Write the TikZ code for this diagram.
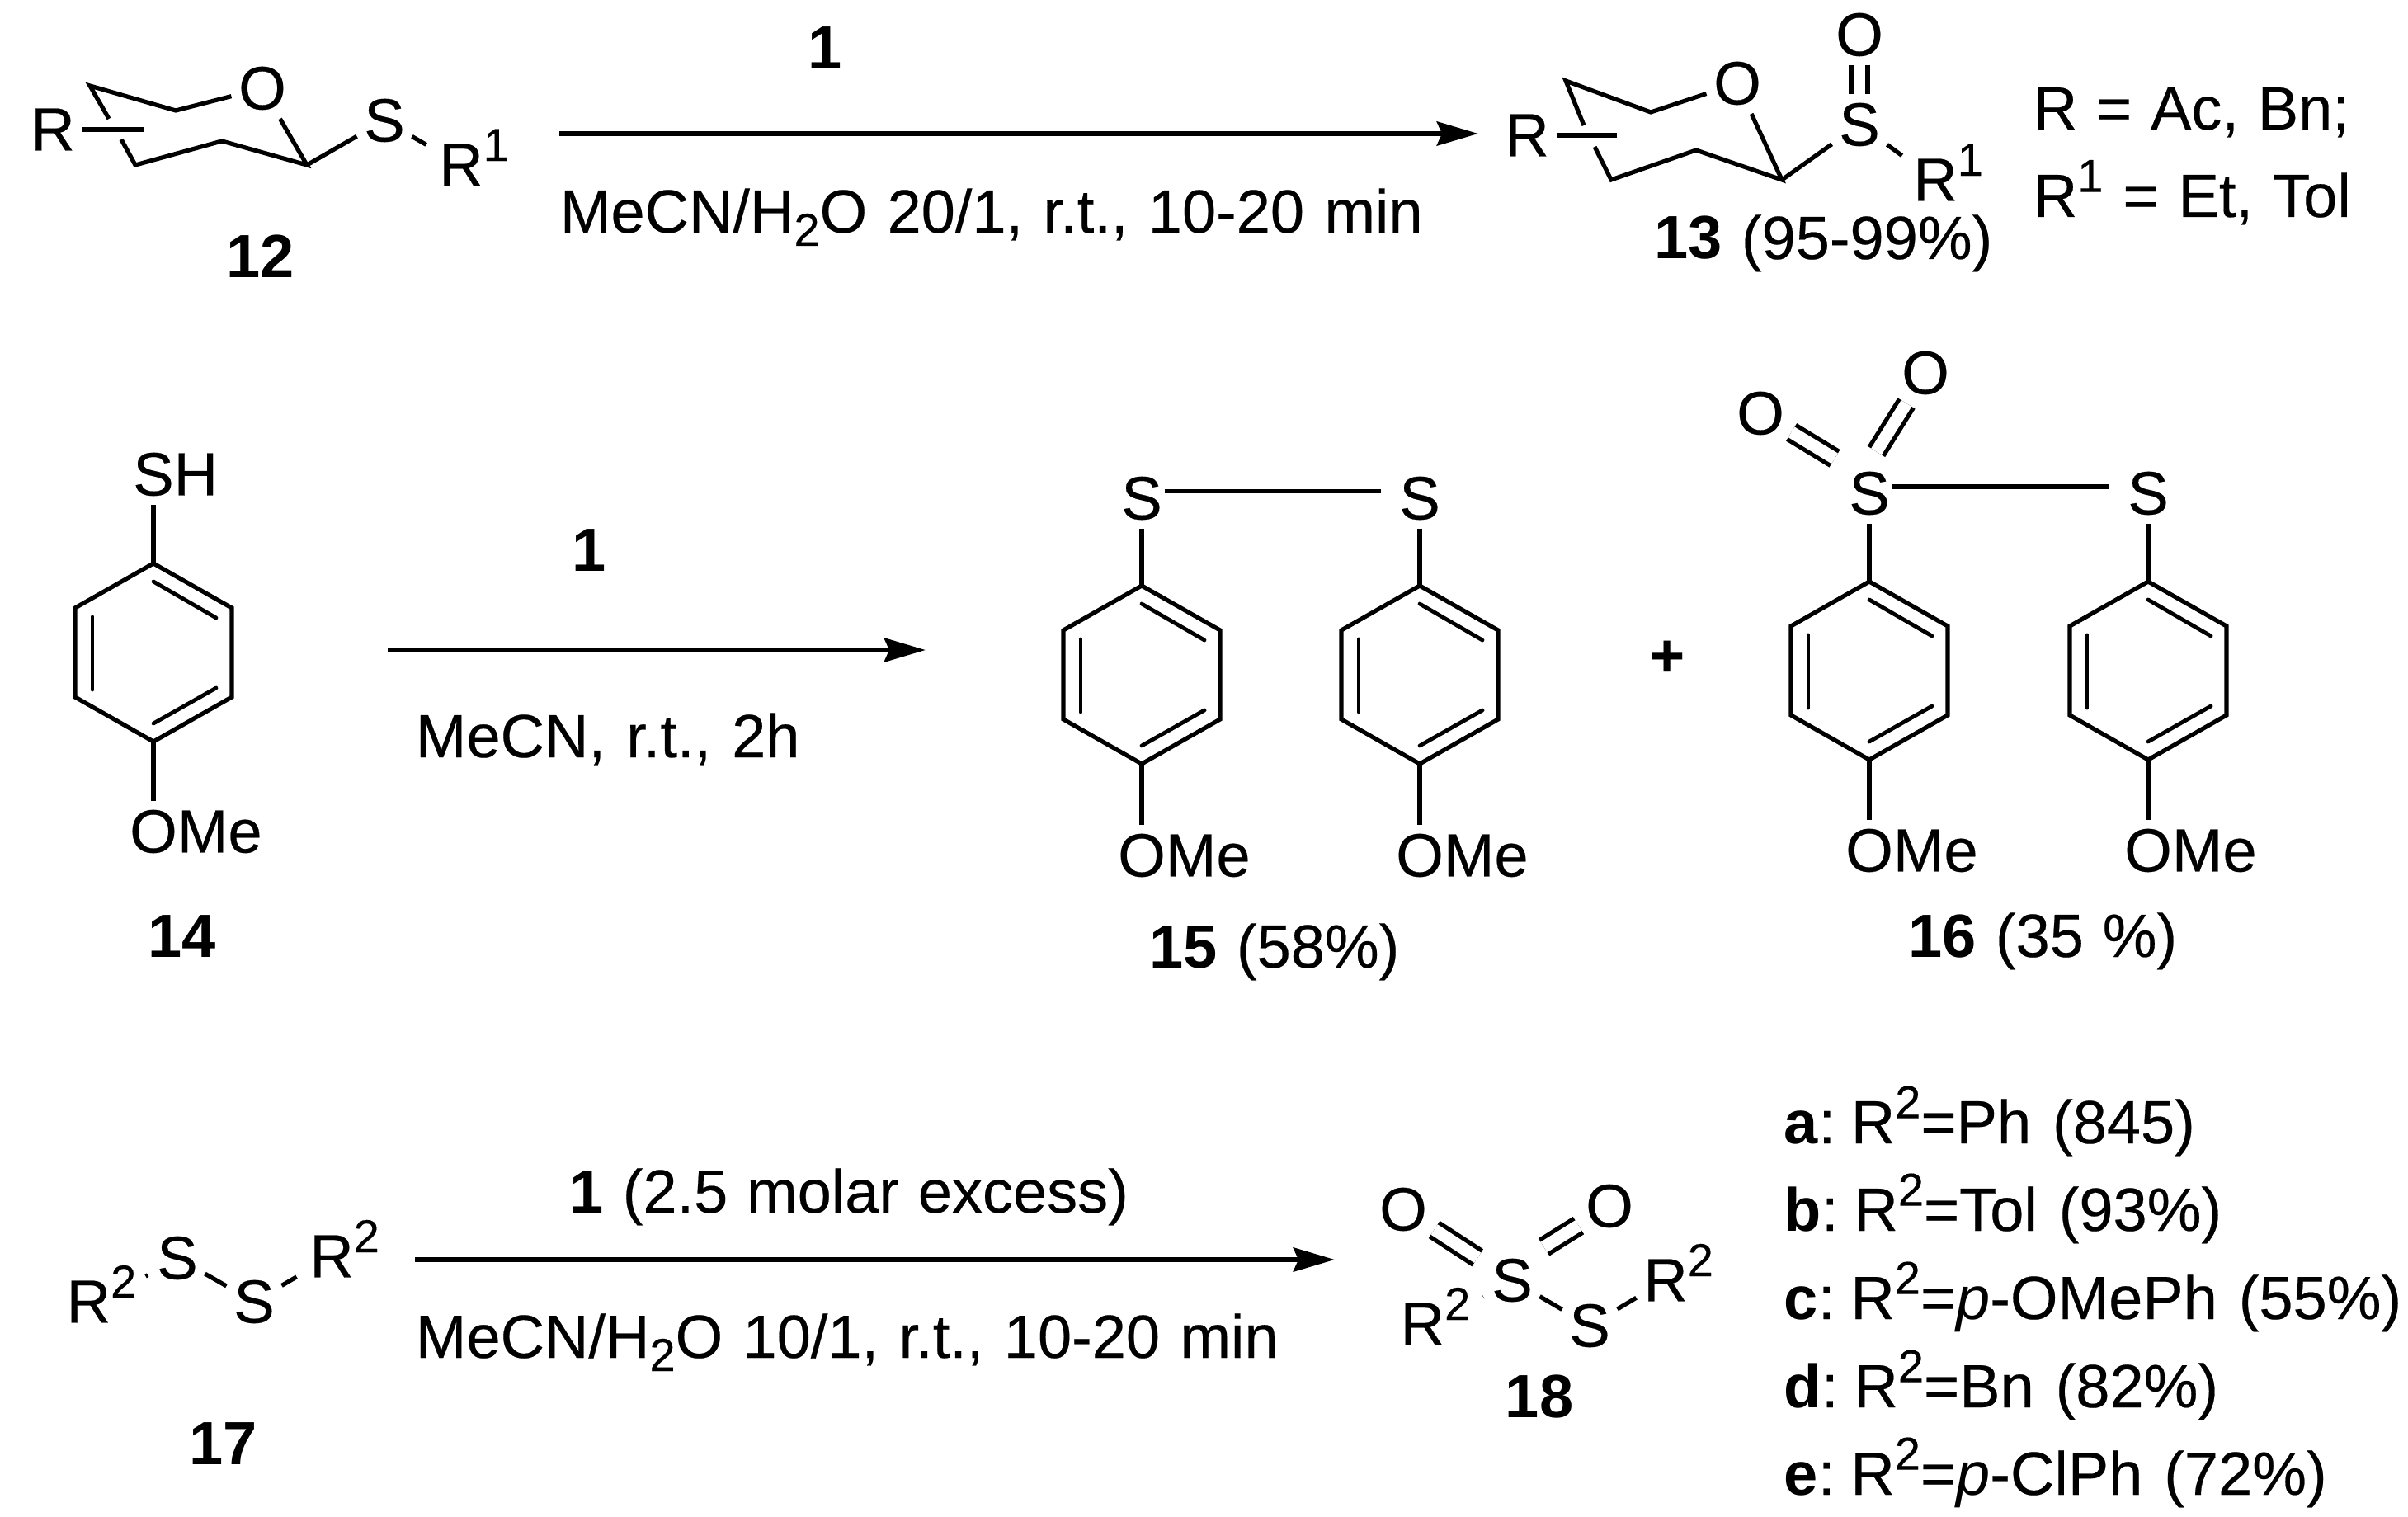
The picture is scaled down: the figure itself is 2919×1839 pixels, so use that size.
\documentclass[tikz,border=0pt]{standalone}
\usepackage{fontspec}
\setmainfont[UprightFeatures={FakeBold=0.3}]{Liberation Sans}
\usetikzlibrary{arrows.meta}
\newcommand{\supr}[1]{\smash{\raisebox{7.6pt}{\fontsize{14}{14}\selectfont #1}}}
\newcommand{\subr}[1]{\smash{\raisebox{-4pt}{\fontsize{14}{14}\selectfont #1}}}
\begin{document}
\begin{tikzpicture}[x=0.25pt, y=-0.25pt, every node/.style={font=\fontsize{18.5}{22}\selectfont, execute at begin node={\spaceskip=5.7pt\relax}}]
\tikzstyle{atom}=[inner xsep=2pt, inner ysep=2.5pt]
\tikzstyle{lbl}=[inner sep=0pt, anchor=base west]
\tikzstyle{num}=[inner sep=0pt, anchor=base]
\tikzstyle{bond}=[line width=1.3pt]
\tikzstyle{dbond}=[line width=1.3pt, double, double distance=3.7pt]
\tikzstyle{inner}=[line width=1.2pt, line cap=round]
\tikzstyle{rxn}=[line width=1.7pt, -{Stealth[length=12.5pt, width=7.2pt, inset=1.5pt]}]
\useasboundingbox (0,0) rectangle (2919,1839);

%% first row
\node (r12) at (64,157) [atom] {R};
\node (o12) at (318,107) [atom] {O};
\node (s12) at (466,146) [atom] {S};
\node (rr12) at (559,200) [atom] {R\rlap{\supr{1}}};
\coordinate (c121) at (109,104);
\coordinate (c122) at (213,134);
\coordinate (c123) at (132,144);
\coordinate (c124) at (174,157);
\coordinate (c125) at (147,169);
\coordinate (c126) at (164,200);
\coordinate (c127) at (269,171);
\coordinate (c128) at (372,200);

\draw [bond] (c123) -- (c121) -- (c122) -- (o12);
\draw [bond] (r12) -- (c124);
\draw [bond] (c125) -- (c126) -- (c127) -- (c128) -- (o12);
\draw [bond] (c128) -- (s12);
\draw [bond, shorten >=2pt] (s12) -- (rr12);

\coordinate (ar1s) at (678,162);
\coordinate (ar1e) at (1792,162);
\draw [rxn] (ar1s) -- (ar1e);
\node (k1) at (1000,84) [num] {\textbf{1}};
\node (m1) at (678,282) [lbl] {\spaceskip=6.1pt\relax MeCN/H\subr{2}O 20/1, r.t., 10-20 min};

\node (r13) at (1851,164) [atom] {R};
\node (o13) at (2106,101) [atom] {O};
\node (s13) at (2254,151) [atom] {S};
\node (ot13) at (2254,42) [atom] {O};
\node (rr13) at (2346,218) [atom] {R\rlap{\supr{1}}};
\coordinate (c131) at (1898,98);
\coordinate (c132) at (2001,136);
\coordinate (c133) at (1920,152);
\coordinate (c134) at (1960,164);
\coordinate (c135) at (1933,178);
\coordinate (c136) at (1953,218);
\coordinate (c137) at (2056,182);
\coordinate (c138) at (2160,218);

\draw [bond] (c133) -- (c131) -- (c132) -- (o13);
\draw [bond] (r13) -- (c134);
\draw [bond] (c135) -- (c136) -- (c137) -- (c138) -- (o13);
\draw [bond] (c138) -- (s13);
\draw [bond, shorten >=1.5pt] (s13) -- (rr13);
\draw [dbond] (ot13) -- (s13);

\node (n13) at (2005,314) [lbl] {\textbf{13} (95-99\%)};
\node (v1) at (2464,157) [lbl] {R = Ac, Bn;};
\node (v2) at (2464,263) [lbl] {\spaceskip=6pt\relax R\supr{1} = Et, Tol};
\node (n12) at (316,337) [num] {\textbf{12}};

%% rings of the second row
\foreach \rn/\cx/\ty in {a/186/683, b/1384/710, c/1721/710, d/2266/705, e/2604/705} {
  \coordinate (\rn1) at (\cx,\ty);
  \coordinate (\rn2) at (\cx+95,\ty+54);
  \coordinate (\rn3) at (\cx+95,\ty+162);
  \coordinate (\rn4) at (\cx,\ty+216);
  \coordinate (\rn5) at (\cx-95,\ty+162);
  \coordinate (\rn6) at (\cx-95,\ty+54);
  \coordinate (\rn7) at (\cx,\ty+22);
  \coordinate (\rn8) at (\cx+76,\ty+66);
  \coordinate (\rn9) at (\cx,\ty+194);
  \coordinate (\rn10) at (\cx+76,\ty+151);
  \coordinate (\rn11) at (\cx-74,\ty+65);
  \coordinate (\rn12) at (\cx-74,\ty+153);
  \draw [bond] (\rn1) -- (\rn2) -- (\rn3) -- (\rn4) -- (\rn5) -- (\rn6) -- cycle;
  \draw [inner] (\rn7) -- (\rn8);
  \draw [inner] (\rn9) -- (\rn10);
  \draw [inner] (\rn11) -- (\rn12);
}

\node (s14) at (186,575) [atom] {S\rlap{H}};
\node (o14) at (186,1008) [atom] {O\rlap{Me}};
\draw [bond] (s14) -- (a1);
\draw [bond] (a4) -- (o14);
\node (n14) at (221,1160) [num] {\textbf{14}};

\coordinate (ar2s) at (470,788);
\coordinate (ar2e) at (1122,788);
\draw [rxn] (ar2s) -- (ar2e);
\node (k2) at (714,692) [num] {\textbf{1}};
\node (m2) at (503,918) [lbl] {\spaceskip=6.3pt\relax MeCN, r.t., 2h};

\node (s15a) at (1384,604) [atom] {S};
\node (s15b) at (1721,604) [atom] {S};
\node (o15a) at (1384,1037) [atom] {O\rlap{Me}};
\node (o15b) at (1721,1037) [atom] {O\rlap{Me}};
\draw [bond, shorten <=-1.5pt, shorten >=3.5pt] ([yshift=2.1pt]s15a.east) -- ([yshift=2.1pt]s15b.west);
\draw [bond] (s15a) -- (b1);
\draw [bond] (s15b) -- (c1);
\draw [bond] (b4) -- (o15a);
\draw [bond] (c4) -- (o15b);
\node (n15) at (1393,1173) [lbl] {\textbf{15} (58\%)};

\node (pl) at (2021,799) [inner sep=0pt] {\textbf{+}};

\node (s16a) at (2266,598) [atom] {S};
\node (s16b) at (2604,598) [atom] {S};
\node (o16a) at (2134,501) [atom] {O};
\node (o16b) at (2334,452) [atom] {O};
\node (o16c) at (2266,1031) [atom] {O\rlap{Me}};
\node (o16d) at (2604,1031) [atom] {O\rlap{Me}};
\draw [bond, shorten <=-1.5pt, shorten >=3.5pt] ([yshift=2pt]s16a.east) -- ([yshift=2pt]s16b.west);
\draw [dbond, shorten >=2.5pt] (o16a) -- (s16a.north west);
\draw [dbond, shorten >=4pt] (o16b) -- (s16a.north);
\draw [bond] (s16a) -- (d1);
\draw [bond] (s16b) -- (e1);
\draw [bond] (d4) -- (o16c);
\draw [bond] (e4) -- (o16d);
\node (n16) at (2313,1160) [lbl] {\textbf{16} (35 \%)};

%% third row
\node (r17a) at (123,1578) [atom] {R\supr{2}};
\node (s17a) at (215,1525) [atom] {S};
\node (s17b) at (308,1578) [atom] {S};
\node (r17b) at (402,1523) [atom] {R\rlap{\supr{2}}};
\draw [bond, shorten <=0.7pt, shorten >=0.7pt] (r17a) -- (s17a);
\draw [bond] (s17a) -- (s17b);
\draw [bond, shorten >=2pt] (s17b) -- (r17b);
\node (n17) at (271,1775) [num] {\textbf{17}};

\coordinate (ar3s) at (503,1527);
\coordinate (ar3e) at (1618,1527);
\draw [rxn] (ar3s) -- (ar3e);
\node (k3) at (690,1470) [lbl] {\textbf{1} (2.5 molar excess)};
\node (m3) at (503,1646) [lbl] {\spaceskip=6.1pt\relax MeCN/H\subr{2}O 10/1, r.t., 10-20 min};

\node (r18a) at (1740,1605) [atom] {R\supr{2}};
\node (s18a) at (1833,1552) [atom] {S};
\node (s18b) at (1927,1607) [atom] {S};
\node (r18b) at (2019,1552) [atom] {R\rlap{\supr{2}}};
\node (o18a) at (1701,1466) [atom] {O};
\node (o18b) at (1951,1462) [atom] {O};
\draw [bond, shorten <=2pt, shorten >=0.5pt] (r18a) -- (s18a);
\draw [bond] (s18a) -- (s18b);
\draw [bond] (s18b) -- (r18b);
\draw [dbond, shorten >=2.5pt] (o18a) -- (s18a);
\draw [dbond, shorten >=1.5pt] (o18b) -- (s18a.north east);
\node (n18) at (1866,1718) [num] {\textbf{18}};

\tikzstyle{lst}=[lbl, execute at begin node={\spaceskip=6.5pt\relax}]
\node (la) at (2162,1386) [lst] {\textbf{a}:\hspace{4.7pt}R\supr{2}=Ph (845)};
\node (lb) at (2162,1492) [lst] {\textbf{b}:\hspace{4.7pt}R\supr{2}=Tol (93\%)};
\node (lc) at (2162,1599) [lst] {\textbf{c}:\hspace{4.7pt}R\supr{2}=\textit{p}-OMePh (55\%)};
\node (ld) at (2162,1706) [lst] {\textbf{d}:\hspace{4.7pt}R\supr{2}=Bn (82\%)};
\node (le) at (2162,1812) [lst] {\textbf{e}:\hspace{4.7pt}R\supr{2}=\textit{p}-ClPh (72\%)};
\end{tikzpicture}
\end{document}
